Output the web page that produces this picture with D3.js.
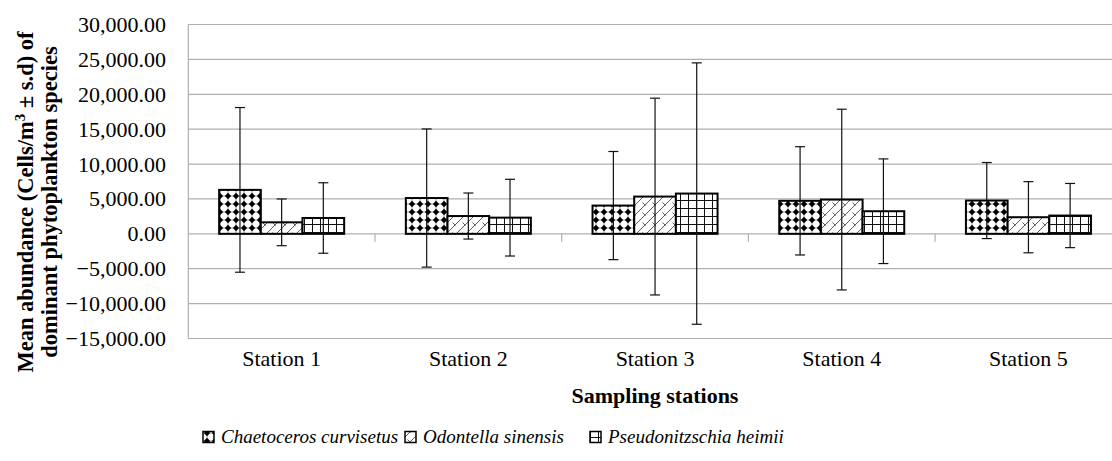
<!DOCTYPE html>
<html>
<head>
<meta charset="utf-8">
<script src="https://cdn.jsdelivr.net/npm/d3@7"></script>
<style>
  html, body { margin: 0; padding: 0; background: #fff; }
  .grid line { stroke: #b0b0b0; stroke-width: 1.2; }
</style>
</head>
<body>
<svg id="chart" width="1112" height="461"></svg>
<script>
  "use strict";

  const STATIONS = ["Station 1", "Station 2", "Station 3", "Station 4", "Station 5"];
  const SPECIES = ["Chaetoceros curvisetus", "Odontella sinensis", "Pseudonitzschia heimii"];
  const MEAN_CHAETOCEROS = [6300, 5130, 4050, 4730, 4770];
  const MEAN_ODONTELLA = [1650, 2550, 5340, 4910, 2380];
  const MEAN_PSEUDO = [2270, 2320, 5770, 3240, 2620];
  const SD_CHAETOCEROS = [11800, 9900, 7750, 7760, 5450];
  const SD_ODONTELLA = [3350, 3300, 14100, 12950, 5100];
  const SD_PSEUDO = [5050, 5500, 18730, 7500, 4600];
  const Y_TICKS = [-15000, -10000, -5000, 0, 5000, 10000, 15000, 20000, 25000, 30000];

  const MEANS = [MEAN_CHAETOCEROS, MEAN_ODONTELLA, MEAN_PSEUDO];
  const SDS = [SD_CHAETOCEROS, SD_ODONTELLA, SD_PSEUDO];
  const PATTERN_IDS = ["pat-dots", "pat-diag", "pat-grid"];
  const SERIF = "'Liberation Serif', 'Times New Roman', serif";

  const rows = [];
  STATIONS.forEach((st, i) => {
    SPECIES.forEach((sp, j) => {
      rows.push({ station: st, species: sp, mean: MEANS[j][i], sd: SDS[j][i], k: j });
    });
  });

  const PLOT = { left: 188.3, right: 1121.8, top: 24.5, bottom: 338.5 };

  const svg = d3.select("#chart");
  const defs = svg.append("defs");

  function font(sel, size, weight, style) {
    return sel
      .style("font-family", SERIF)
      .style("font-size", size + "px")
      .style("font-weight", weight || 400)
      .style("font-style", style || "normal")
      .attr("fill", "#000");
  }

  // ---- fill patterns ----
  const pDots = defs.append("pattern")
    .attr("id", "pat-dots").attr("patternUnits", "userSpaceOnUse")
    .attr("width", 8).attr("height", 8);
  pDots.append("rect").attr("width", 8).attr("height", 8).attr("fill", "#fff");
  pDots.append("path").attr("d", "M4 0V8M0 4H8").attr("stroke", "#555").attr("stroke-width", 0.6);
  pDots.append("path").attr("d", "M4 0.8L7.2 4L4 7.2L0.8 4Z").attr("fill", "#000");

  const pDiag = defs.append("pattern")
    .attr("id", "pat-diag").attr("patternUnits", "userSpaceOnUse")
    .attr("width", 10).attr("height", 10);
  pDiag.append("rect").attr("width", 10).attr("height", 10).attr("fill", "#fff");
  pDiag.append("path").attr("d", "M0 10L10 0M-2 2L2 -2M8 12L12 8")
    .attr("stroke", "#333").attr("stroke-width", 0.8);
  pDiag.append("path").attr("d", "M2.5 2.5L5.5 5.5").attr("stroke", "#333").attr("stroke-width", 0.8);

  const pGrid = defs.append("pattern")
    .attr("id", "pat-grid").attr("patternUnits", "userSpaceOnUse")
    .attr("width", 8).attr("height", 8);
  pGrid.append("rect").attr("width", 8).attr("height", 8).attr("fill", "#fff");
  pGrid.append("path").attr("d", "M0.5 0V8M0 0.5H8").attr("stroke", "#111").attr("stroke-width", 1);

  // ---- scales ----
  const y = d3.scaleLinear().domain([-15000, 30000]).range([PLOT.bottom, PLOT.top]);
  const x0 = d3.scaleBand().domain(STATIONS).range([PLOT.left, PLOT.right]).padding(0);
  const x1 = d3.scaleBand().domain(SPECIES).range([0, x0.bandwidth()])
    .paddingInner(0).paddingOuter(0.74);

  // ---- gridlines ----
  const grid = svg.append("g").attr("class", "grid");
  grid.selectAll("line.h")
    .data(Y_TICKS)
    .join("line")
    .attr("class", "h")
    .attr("x1", PLOT.left).attr("x2", PLOT.right)
    .attr("y1", (d) => y(d)).attr("y2", (d) => y(d));
  grid.append("line")
    .attr("x1", PLOT.left).attr("x2", PLOT.left)
    .attr("y1", y(30000)).attr("y2", y(-15000));

  // category ticks below the zero line
  grid.selectAll("line.ct")
    .data(STATIONS.slice(1))
    .join("line")
    .attr("class", "ct")
    .attr("x1", (d) => x0(d)).attr("x2", (d) => x0(d))
    .attr("y1", y(0)).attr("y2", y(0) + 8);

  // ---- y tick labels ----
  const fmt = d3.format(",.2f");
  svg.append("g").selectAll("text")
    .data(Y_TICKS)
    .join("text")
    .call(font, 22)
    .attr("x", 166)
    .attr("y", (d) => y(d))
    .attr("dy", "0.34em")
    .attr("text-anchor", "end")
    .text((d) => fmt(d));

  // ---- bars ----
  const bars = svg.append("g");
  bars.selectAll("rect")
    .data(rows)
    .join("rect")
    .attr("x", (d) => x0(d.station) + x1(d.species))
    .attr("y", (d) => y(d.mean))
    .attr("width", x1.bandwidth())
    .attr("height", (d) => y(0) - y(d.mean))
    .attr("fill", (d) => `url(#${PATTERN_IDS[d.k]})`)
    .attr("stroke", "#000")
    .attr("stroke-width", 2);

  // ---- error bars ----
  const err = svg.append("g").attr("stroke", "#111").attr("stroke-width", 1.2);
  const cx = (d) => x0(d.station) + x1(d.species) + x1.bandwidth() / 2;
  err.selectAll("line.v")
    .data(rows)
    .join("line")
    .attr("class", "v")
    .attr("x1", cx).attr("x2", cx)
    .attr("y1", (d) => y(d.mean + d.sd))
    .attr("y2", (d) => y(d.mean - d.sd));
  ["+", "-"].forEach((s) => {
    err.selectAll("line.cap" + (s === "+" ? "t" : "b"))
      .data(rows)
      .join("line")
      .attr("class", "cap" + (s === "+" ? "t" : "b"))
      .attr("x1", (d) => cx(d) - 5).attr("x2", (d) => cx(d) + 5)
      .attr("y1", (d) => y(s === "+" ? d.mean + d.sd : d.mean - d.sd))
      .attr("y2", (d) => y(s === "+" ? d.mean + d.sd : d.mean - d.sd));
  });

  // ---- x category labels ----
  svg.append("g").selectAll("text")
    .data(STATIONS)
    .join("text")
    .call(font, 22)
    .attr("x", (d) => x0(d) + x0.bandwidth() / 2)
    .attr("y", 366)
    .attr("text-anchor", "middle")
    .text((d) => d);

  // ---- axis titles ----
  svg.append("text")
    .call(font, 22, 700)
    .attr("x", 655).attr("y", 403)
    .attr("text-anchor", "middle")
    .text("Sampling stations");

  const yt = svg.append("text")
    .call(font, 22.5, 700)
    .attr("transform", "translate(0,202) rotate(-90)")
    .attr("text-anchor", "middle");
  const l1 = yt.append("tspan").attr("x", 0).attr("y", 33);
  l1.append("tspan").text("Mean abundance (Cells/m");
  l1.append("tspan").attr("dy", -8).style("font-size", "15px").text("3");
  l1.append("tspan").attr("dy", 8).text(" \u00b1 s.d) of");
  yt.append("tspan").attr("x", 0).attr("y", 57).text("dominant phytoplankton species");

  // ---- legend ----
  const LEGEND_X = [203, 405, 590];
  const leg = svg.append("g").selectAll("g")
    .data(SPECIES)
    .join("g")
    .attr("transform", (d, i) => `translate(${LEGEND_X[i]},437)`);
  leg.append("rect")
    .attr("x", 0).attr("y", -5.5)
    .attr("width", 11).attr("height", 11)
    .attr("fill", (d, i) => `url(#${PATTERN_IDS[i]})`)
    .attr("stroke", "#000").attr("stroke-width", 1.5);
  leg.append("text")
    .call(font, 19, 400, "italic")
    .attr("x", 18).attr("y", 0).attr("dy", "0.34em")
    .text((d) => d);
</script>
</body>
</html>
